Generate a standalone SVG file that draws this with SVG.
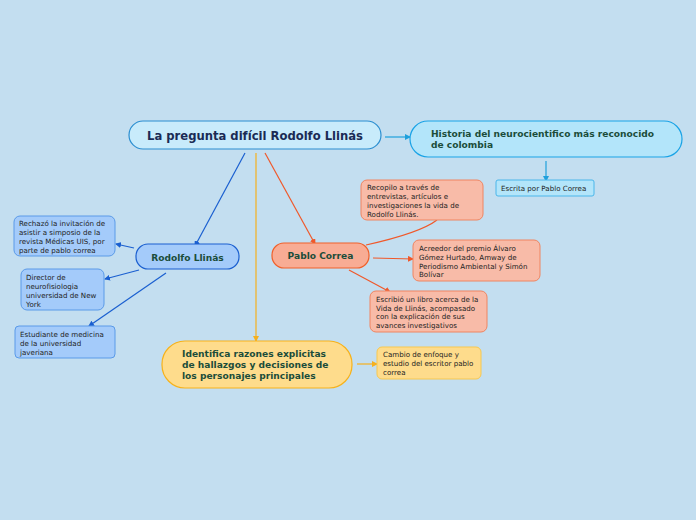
<svg xmlns="http://www.w3.org/2000/svg" width="696" height="520" viewBox="0 0 696 520">
<defs>
<marker id="ab" markerWidth="6" markerHeight="6" refX="5" refY="3" orient="auto" markerUnits="userSpaceOnUse"><path d="M0,0 L6,3 L0,6 z" fill="#1a5fd0"/></marker>
<marker id="ac" markerWidth="6" markerHeight="6" refX="5" refY="3" orient="auto" markerUnits="userSpaceOnUse"><path d="M0,0 L6,3 L0,6 z" fill="#1fa0dc"/></marker>
<marker id="ar" markerWidth="6" markerHeight="6" refX="5" refY="3" orient="auto" markerUnits="userSpaceOnUse"><path d="M0,0 L6,3 L0,6 z" fill="#f0582a"/></marker>
<marker id="ay" markerWidth="6" markerHeight="6" refX="5" refY="3" orient="auto" markerUnits="userSpaceOnUse"><path d="M0,0 L6,3 L0,6 z" fill="#f5b01e"/></marker>
</defs>
<style>
text{font-family:"DejaVu Sans","Liberation Sans",sans-serif}
.t{font-size:7.1px;fill:#222}
.h{font-weight:bold;fill:#1b4d3a;font-size:9.1px}
.cb{stroke:#1a5fd0;stroke-width:1.2;fill:none;marker-end:url(#ab)}
.cc{stroke:#1fa0dc;stroke-width:1.2;fill:none;marker-end:url(#ac)}
.cr{stroke:#f0582a;stroke-width:1.2;fill:none;marker-end:url(#ar)}
.cy{stroke:#f5b01e;stroke-width:1.2;fill:none;marker-end:url(#ay)}
.bl{fill:#a4cbfa;stroke:#5a9ae8;stroke-width:1}
.sa{fill:#f8bba8;stroke:#f08460;stroke-width:1}
</style>
<rect width="696" height="520" fill="#c3def0"/>
<g id="connectors">
<path class="cc" d="M385,137 L410,137"/>
<path class="cc" d="M546,161 L546,181"/>
<path class="cb" d="M245,153 L195,246"/>
<path class="cb" d="M134,248 L116,244"/>
<path class="cb" d="M139,270 L105,279"/>
<path class="cb" d="M166,273 L89,326"/>
<path class="cr" d="M265,153 L315,244"/>
<path d="M366,245 Q420,233 437,220" stroke="#f0582a" stroke-width="1.2" fill="none"/>
<path class="cr" d="M373,258 L413,259"/>
<path class="cr" d="M349,270 L390,292"/>
<path class="cy" d="M256,153 L256,341"/>
<path class="cy" d="M357,364 L377,364"/>
</g>
<g id="main">
<rect x="129" y="121" width="252" height="28" rx="14" fill="#c8ebfb" stroke="#2b8ed0" stroke-width="1.2"/>
<text x="255" y="140" text-anchor="middle" font-size="11.6" font-weight="bold" fill="#1a2b55">La pregunta difícil Rodolfo Llinás</text>
</g>
<g id="historia">
<rect x="410" y="121" width="272" height="36" rx="18" fill="#b3e5fa" stroke="#1aa3e6" stroke-width="1.2"/>
<text class="h" x="431" y="137">Historia del neurocientifico más reconocido</text>
<text class="h" x="431" y="148">de colombia</text>
</g>
<g id="escrita">
<rect x="496" y="180" width="98" height="16" rx="2" fill="#b3e5fa" stroke="#4bb6ea"/>
<text class="t" x="501" y="191">Escrita por Pablo Correa</text>
</g>
<g id="rodolfo">
<rect x="136" y="244" width="103" height="25" rx="12" fill="#a4cbfa" stroke="#1a5fd0" stroke-width="1.2"/>
<text class="h" x="187.5" y="261" text-anchor="middle">Rodolfo Llinás</text>
</g>
<g id="rechazo">
<rect class="bl" x="14" y="216" width="101" height="40" rx="6"/>
<text class="t" x="19" y="226">Rechazó la invitación de</text>
<text class="t" x="19" y="235">asistir a simposio de la</text>
<text class="t" x="19" y="244">revista Médicas UIS, por</text>
<text class="t" x="19" y="253">parte de pablo correa</text>
</g>
<g id="director">
<rect class="bl" x="21" y="269" width="83" height="41" rx="6"/>
<text class="t" x="26" y="280">Director de</text>
<text class="t" x="26" y="289">neurofisiologia</text>
<text class="t" x="26" y="298">universidad de New</text>
<text class="t" x="26" y="307">York</text>
</g>
<g id="estudiante">
<rect class="bl" x="15" y="326" width="100" height="32" rx="4"/>
<text class="t" x="20" y="337">Estudiante de medicina</text>
<text class="t" x="20" y="346">de la universidad</text>
<text class="t" x="20" y="355">javeriana</text>
</g>
<g id="pablo">
<rect x="272" y="243" width="97" height="25" rx="12" fill="#f8ac94" stroke="#f0602a" stroke-width="1.2"/>
<text class="h" x="320.5" y="259" text-anchor="middle">Pablo Correa</text>
</g>
<g id="recopilo">
<rect class="sa" x="361" y="180" width="122" height="40" rx="6"/>
<text class="t" x="367" y="190">Recopilo a través de</text>
<text class="t" x="367" y="199">entrevistas, artículos e</text>
<text class="t" x="367" y="208">investigaciones la vida de</text>
<text class="t" x="367" y="217">Rodolfo Llinás.</text>
</g>
<g id="acreedor">
<rect class="sa" x="413" y="240" width="127" height="41" rx="6"/>
<text class="t" x="419" y="251">Acreedor del premio Álvaro</text>
<text class="t" x="419" y="260">Gómez Hurtado, Amway de</text>
<text class="t" x="419" y="269">Periodismo Ambiental y Simón</text>
<text class="t" x="419" y="277">Bolívar</text>
</g>
<g id="escribio">
<rect class="sa" x="370" y="291" width="117" height="41" rx="6"/>
<text class="t" x="376" y="302">Escribió un libro acerca de la</text>
<text class="t" x="376" y="311">Vida de Llinás, acompasado</text>
<text class="t" x="376" y="319">con la explicación de sus</text>
<text class="t" x="376" y="328">avances investigativos</text>
</g>
<g id="identifica">
<rect x="162" y="341" width="190" height="47" rx="23" fill="#fedc8c" stroke="#f7b21a" stroke-width="1.2"/>
<text class="h" x="182" y="357">Identifica razones explicitas</text>
<text class="h" x="182" y="368">de hallazgos y decisiones de</text>
<text class="h" x="182" y="379">los personajes principales</text>
</g>
<g id="cambio">
<rect x="377" y="347" width="104" height="32" rx="5" fill="#fedc8c" stroke="#f7c850"/>
<text class="t" x="383" y="357">Cambio de enfoque y</text>
<text class="t" x="383" y="366">estudio del escritor pablo</text>
<text class="t" x="383" y="375">correa</text>
</g>
</svg>
